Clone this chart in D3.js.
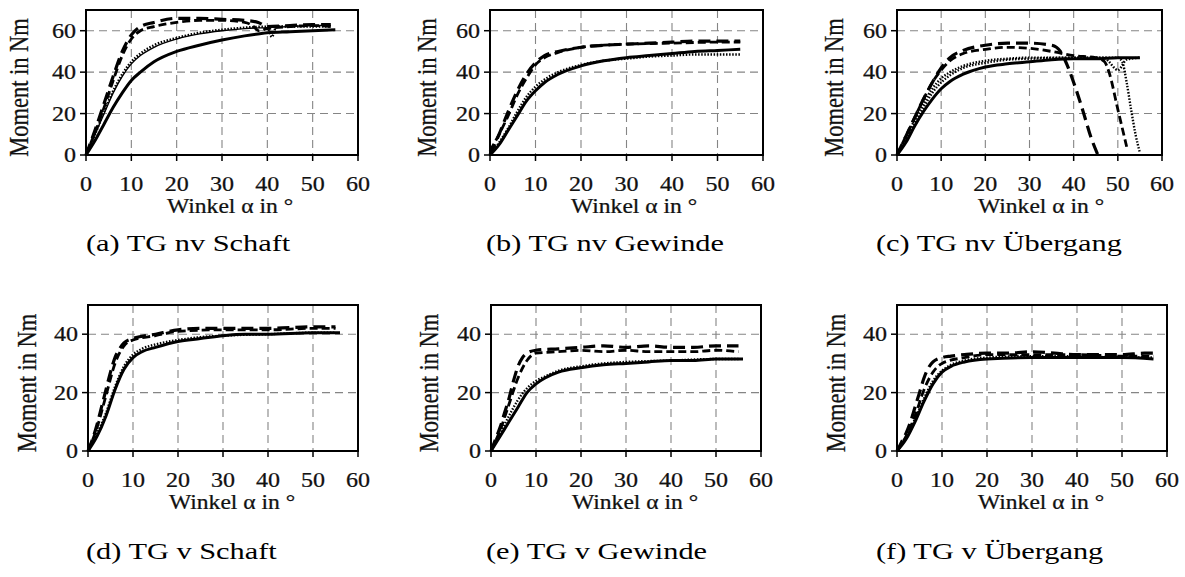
<!DOCTYPE html>
<html>
<head>
<meta charset="utf-8">
<script src="https://cdn.jsdelivr.net/npm/d3@7"></script>
<style>
  body { margin: 0; background: #fff; }
  svg { display: block; }
  text { font-family: "Liberation Serif", "Times New Roman", serif; fill: #111; stroke: #111; stroke-width: 0.25; }
  text.caption { stroke: none; fill: #000; }
</style>
</head>
<body>
<svg id="chart" width="1185" height="577"></svg>
<script>
// captions and tick values
const captions = ["(a) TG nv Schaft", "(b) TG nv Gewinde", "(c) TG nv Übergang",
                  "(d) TG v Schaft", "(e) TG v Gewinde", "(f) TG v Übergang"];
const xTicks = [0, 10, 20, 30, 40, 50, 60];
const yTicksTop = [0, 20, 40, 60];
const yTicksBottom = [0, 20, 40];

// (a) TG nv Schaft
const aDash1 = [[0,0],[2,12],[4,25],[6,38],[8,50],[10,58],[12,62],[15,64],[20,66],[25,66],[30,65.5],[35,65],[38,64],[40,62],[45,62.5],[50,63],[54,63]];
const aDash2 = [[0,0],[2,11],[4,23],[6,36],[8,48],[10,56],[12,60],[15,62],[20,64],[25,65],[30,65],[35,64],[37,62],[38,60],[40,61],[45,62],[50,62.5],[54,62]];
const aThin  = [[0,0],[2,10],[4,20],[6,30],[8,38],[10,44],[12,48],[15,52],[20,56],[25,58.5],[30,60],[35,61],[40,61.5],[45,62],[50,62.5],[54,62.5]];
const aDot   = [[0,0],[2,10],[4,21],[6,31],[8,39],[10,45],[12,49],[15,53],[20,56.5],[25,59],[30,60.5],[35,61.5],[40,62],[41,57],[42,62],[50,62],[54,62]];
const aSolid = [[0,0],[2,7],[4,15],[6,23],[8,30],[10,36],[12,40],[15,45],[20,50],[25,53],[30,55.5],[35,57.5],[40,59],[45,59.5],[50,60],[55,60.5]];

// (b) TG nv Gewinde
const bDash1 = [[0,0],[2,10],[4,21],[6,31],[8,39],[10,44.5],[12,48],[15,50],[20,52],[25,53],[30,53.5],[35,54],[40,54.5],[45,55],[50,55],[55,55]];
const bDash2 = [[0,2],[2,10],[4,19],[6,29],[8,37],[10,43.5],[12,47],[15,49.5],[20,52],[25,53],[30,53.5],[40,54],[50,54.5],[55,54.5]];
const bSolid = [[0,0],[2,5],[4,12],[6,19],[8,26],[10,31],[12,35],[15,39],[20,43],[25,45.5],[30,47],[35,48],[40,49],[45,50],[50,50.5],[55,51]];
const bDot   = [[0,0],[2,6],[4,13],[6,21],[8,28],[10,33],[12,36.5],[15,40],[20,43.5],[25,45.5],[30,46.5],[35,47.5],[40,48],[45,48.5],[50,48.5],[55,48.5]];

// (c) TG nv Übergang
const cDash1 = [[0,0],[2,9],[4,18],[6,27],[8,35],[10,42],[12,47],[15,50.5],[20,53],[25,54],[30,54],[35,53],[37,50],[38,46],[40,35],[42,22],[44,8],[45.5,0]];
const cDash2 = [[0,0],[2,9],[4,18],[6,27],[8,35],[10,41],[12,45.5],[15,49],[20,51],[25,52],[30,51.5],[35,50],[40,48],[45,47],[47,45],[48,40],[50,22],[52,4]];
const cDot   = [[0,0],[2,8],[4,17],[6,25],[8,32],[10,37],[12,40],[15,43],[20,45.5],[25,46.5],[30,47],[40,47],[45,47],[50,47],[51,45],[52,35],[53,22],[54,10],[55,1]];
const cDot2  = [[0,0],[2,7],[4,15],[6,23],[8,30],[10,35],[12,38.5],[15,42],[20,44.5],[25,46],[30,46.5],[40,47],[47,47],[48,45],[50,41],[52,46],[55,47]];
const cSolid = [[0,0],[2,6],[4,14],[6,21],[8,27],[10,32],[12,35.5],[15,39],[20,42.5],[25,44],[30,45],[35,46],[40,46.5],[45,46.5],[50,47],[55,47]];

// (d) TG v Schaft
const dDash1 = [[0,0],[1,4],[2,9],[3,15],[4,21],[5,27],[6,32],[7,35],[8,37],[10,38.5],[15,40],[20,41.5],[25,42],[30,42],[40,42],[50,42.5],[55,42.5]];
const dDash2 = [[0,0],[2,8],[4,19],[6,30],[8,36],[10,38],[15,39.5],[20,41],[30,41.5],[40,41.5],[50,42],[55,42]];
const dSolid = [[0,0],[2,5],[4,12],[6,21],[8,28],[10,32],[12,34],[15,35.5],[20,37.5],[25,38.5],[30,39.5],[35,40],[40,40],[50,40.5],[56,40.5]];
const dDot   = [[0,0],[2,6],[4,13],[6,22],[8,29],[10,33],[12,35],[15,36.5],[20,38],[25,39],[30,39.5],[40,40],[50,40.5],[55,40.5]];

// (e) TG v Gewinde
const eDash1 = [[0,0],[1,4],[2,8],[3,13],[4,18],[5,24],[6,29],[7,32],[8,33.5],[10,34.5],[15,35],[20,35.5],[25,36],[30,35.5],[35,36],[40,35.5],[45,35.5],[50,36],[55,36]];
const eDash2 = [[0,0],[2,7],[4,16],[6,25],[8,31],[10,33.5],[15,34],[20,34.5],[25,34],[30,34.5],[35,34],[40,34],[45,34],[50,34.5],[55,34]];
const eSolid = [[0,0],[2,5],[4,10],[6,15],[8,20],[10,23],[12,25],[15,27],[20,28.5],[25,29.5],[30,30],[35,30.5],[40,31],[45,31],[50,31.5],[56,31.5]];
const eDot   = [[0,0],[2,6],[4,12],[6,17.5],[8,21.5],[10,24],[12,25.5],[15,27.5],[20,29],[25,30],[30,30.5],[40,31],[50,31.5],[55,31.5]];

// (f) TG v Übergang
const fDash1 = [[0,0],[1,3],[2,6],[3,10],[4,15],[5,20],[6,25],[7,28.5],[8,30.5],[10,32],[12,32.5],[15,33],[20,33.5],[25,33.5],[30,34],[35,33.5],[40,33],[45,33],[50,33],[55,33.5],[57,33.5]];
const fDash2 = [[0,0],[2,5],[4,12],[6,21],[8,27],[10,30],[15,32],[20,33],[30,33],[40,33],[50,32.5],[57,32.5]];
const fSolid = [[0,0],[2,4],[4,10],[6,17],[8,23],[10,27],[12,29],[15,30.5],[20,31.5],[30,32],[40,32],[50,32],[57,31.5]];
const fDot   = [[0,0],[2,4.5],[4,11],[6,18],[8,24],[10,27.5],[12,29.5],[15,31],[20,32],[30,32.5],[40,32.5],[50,32],[57,32]];

const styles = {
  dashL: { w: 3.2, dash: "12,6" },
  dashM: { w: 2.8, dash: "8,4" },
  solid: { w: 3, dash: null },
  thin:  { w: 1.4, dash: null },
  dot:   { w: 2.4, dash: "1.5,1.6" }
};

const panels = [
  { x0: 86,  x1: 358,  y0: 10,  y1: 155, ymax: 70, yTicks: yTicksTop, titleX: 20,
    series: [["dashL", aDash1], ["dashM", aDash2], ["thin", aThin], ["dot", aDot], ["solid", aSolid]] },
  { x0: 490, x1: 763,  y0: 10,  y1: 155, ymax: 70, yTicks: yTicksTop, titleX: 428,
    series: [["dashL", bDash1], ["dashM", bDash2], ["dot", bDot], ["solid", bSolid]] },
  { x0: 897, x1: 1162, y0: 10,  y1: 155, ymax: 70, yTicks: yTicksTop, titleX: 835,
    series: [["dashL", cDash1], ["dashM", cDash2], ["dot", cDot], ["dot", cDot2], ["solid", cSolid]] },
  { x0: 88,  x1: 358,  y0: 305, y1: 451, ymax: 50, yTicks: yTicksBottom, titleX: 28,
    series: [["dashL", dDash1], ["dashM", dDash2], ["dot", dDot], ["solid", dSolid]] },
  { x0: 491, x1: 761,  y0: 305, y1: 451, ymax: 50, yTicks: yTicksBottom, titleX: 430,
    series: [["dashL", eDash1], ["dashM", eDash2], ["dot", eDot], ["solid", eSolid]] },
  { x0: 897, x1: 1167, y0: 305, y1: 451, ymax: 50, yTicks: yTicksBottom, titleX: 837,
    series: [["dashL", fDash1], ["dashM", fDash2], ["dot", fDot], ["solid", fSolid]] }
];
const captionPos = [[86, 251], [486, 251], [876, 251], [86, 559], [486, 559], [876, 559]];

const svg = d3.select("#chart");
const SX = 1.2;   // the reference text is a bit wider than plain Times

function label(g, x, y, txt, size, anchor, sx) {
  return g.append("text")
    .attr("transform", `translate(${x},${y}) scale(${sx || SX},1)`)
    .attr("text-anchor", anchor || "start")
    .attr("font-size", size)
    .text(txt);
}

panels.forEach((p, i) => {
  const g = svg.append("g");
  const x = d3.scaleLinear().domain([0, 60]).range([p.x0, p.x1]);
  const y = d3.scaleLinear().domain([0, p.ymax]).range([p.y1, p.y0]);

  // grid
  g.selectAll("line.gx").data(xTicks.slice(1, -1)).join("line")
    .attr("x1", d => x(d)).attr("x2", d => x(d))
    .attr("y1", p.y0).attr("y2", p.y1)
    .attr("stroke", "#858585").attr("stroke-width", 1.1).attr("stroke-dasharray", "8,5");
  g.selectAll("line.gy").data(p.yTicks.slice(1)).join("line")
    .attr("x1", p.x0).attr("x2", p.x1)
    .attr("y1", d => y(d)).attr("y2", d => y(d))
    .attr("stroke", "#858585").attr("stroke-width", 1.1).attr("stroke-dasharray", "8,5");

  // curves
  const line = d3.line().x(d => x(d[0])).y(d => y(d[1])).curve(d3.curveMonotoneX);
  p.series.forEach(([st, data]) => {
    const s = styles[st];
    g.append("path").attr("d", line(data))
      .attr("fill", "none").attr("stroke", "#000")
      .attr("stroke-width", s.w)
      .attr("stroke-dasharray", s.dash)
      .attr("stroke-linejoin", "round");
  });

  // frame + ticks
  g.append("rect").attr("x", p.x0).attr("y", p.y0)
    .attr("width", p.x1 - p.x0).attr("height", p.y1 - p.y0)
    .attr("fill", "none").attr("stroke", "#000").attr("stroke-width", 2);
  g.selectAll("line.tx").data(xTicks).join("line")
    .attr("x1", d => x(d)).attr("x2", d => x(d))
    .attr("y1", p.y1).attr("y2", p.y1 + 6)
    .attr("stroke", "#000").attr("stroke-width", 1.5);
  g.selectAll("line.ty").data(p.yTicks).join("line")
    .attr("x1", p.x0 - 6).attr("x2", p.x0)
    .attr("y1", d => y(d)).attr("y2", d => y(d))
    .attr("stroke", "#000").attr("stroke-width", 1.5);

  xTicks.forEach(t => label(g, x(t), p.y1 + 36, t, 20, "middle"));
  p.yTicks.forEach(t => label(g, p.x0 - 10, y(t) + 7, t, 20, "end"));

  label(g, p.x0 + 81, p.y1 + 58, "Winkel  α in  °", 20.5, "start", 1.15);

  const cy = (p.y0 + p.y1) / 2 + 5;
  g.append("text")
    .attr("transform", `translate(${p.titleX + 8},${cy}) rotate(-90) scale(1,1.2)`)
    .attr("text-anchor", "middle").attr("font-size", 22.5)
    .text("Moment in Nm");

  label(g, captionPos[i][0], captionPos[i][1], captions[i], 23, "start", 1.32)
    .attr("class", "caption");
});
</script>
</body>
</html>
